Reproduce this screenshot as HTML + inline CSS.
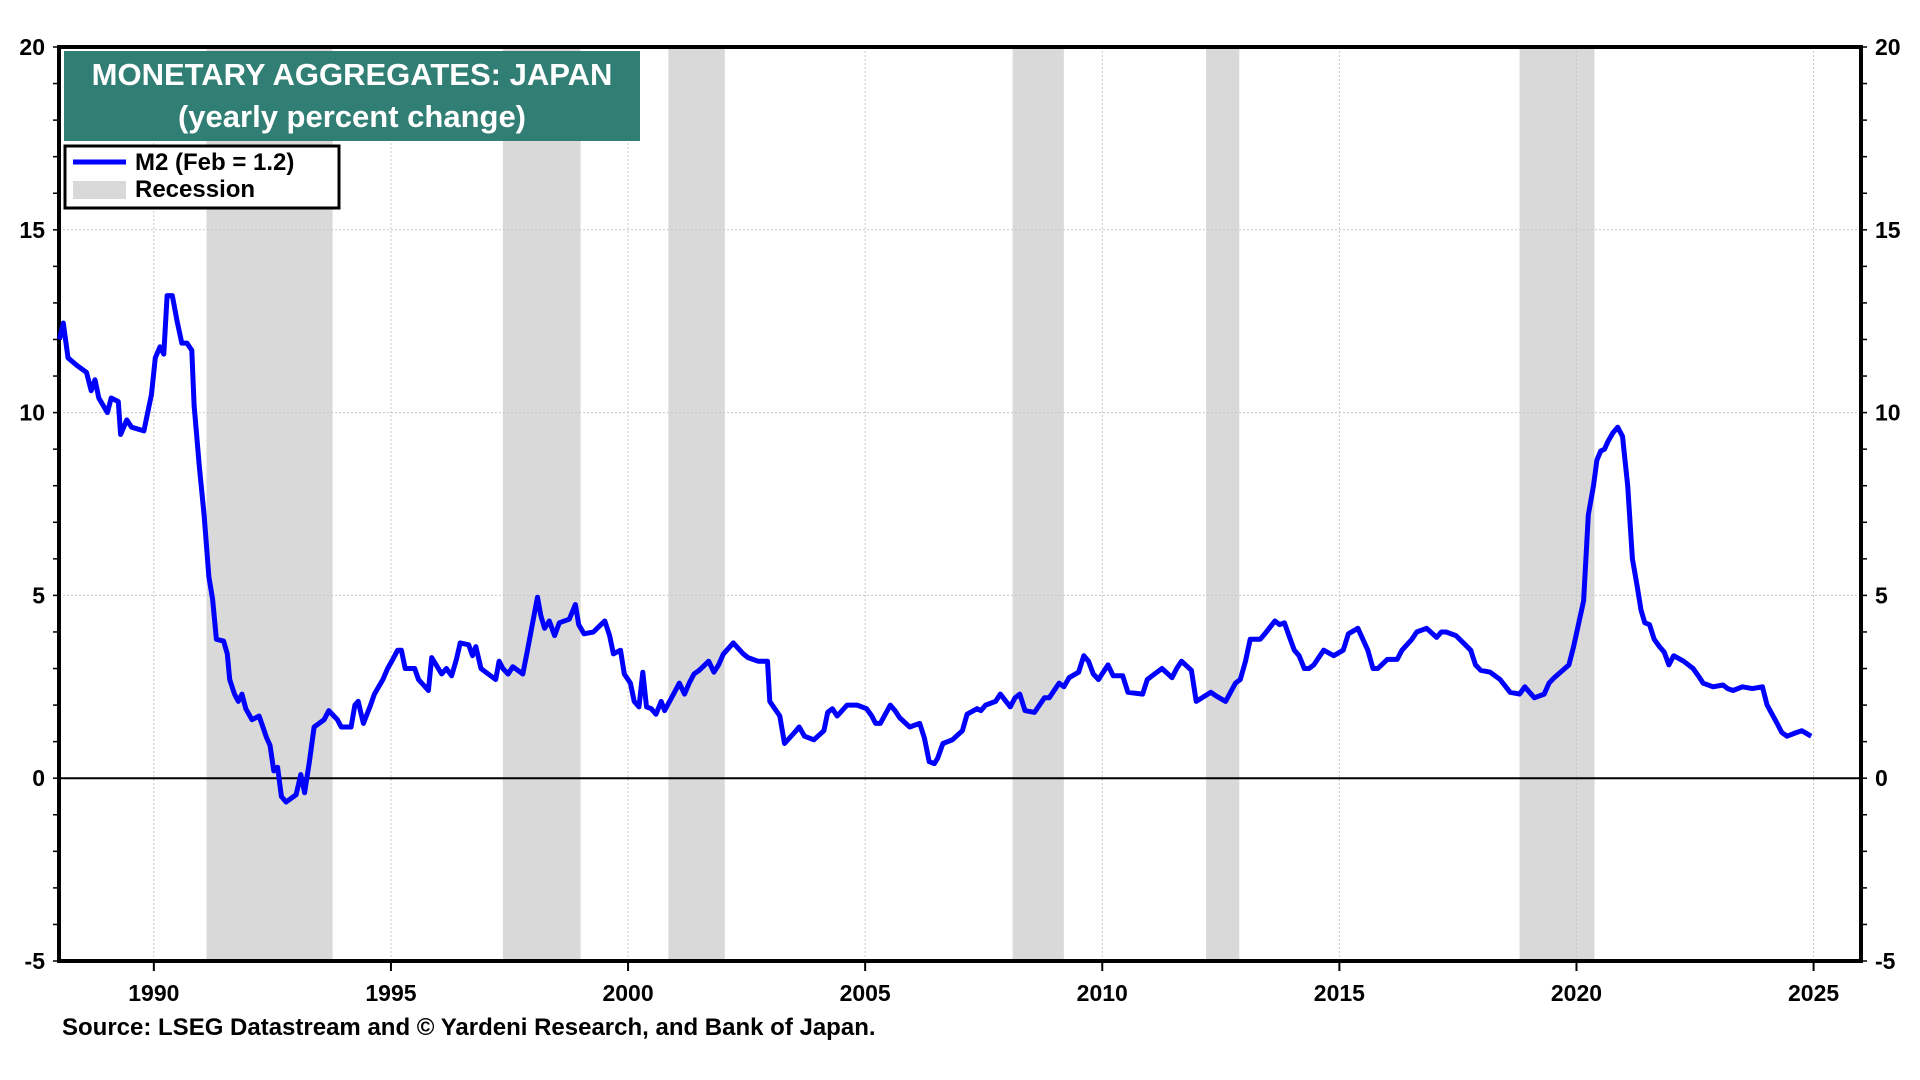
<!DOCTYPE html>
<html><head><meta charset="utf-8"><style>
html,body{margin:0;padding:0;background:#fff;}
svg{display:block;font-family:"Liberation Sans",Arial,sans-serif;}
</style></head><body>
<svg id="chart" width="1920" height="1080" viewBox="0 0 1920 1080" xmlns="http://www.w3.org/2000/svg">
<g id="rec"></g>
<g id="grid"></g>
<g id="axes"></g>
<g id="series"></g>
<g>
<rect x="64" y="51" width="576" height="90" fill="#317f74"/>
<text x="352" y="85" text-anchor="middle" font-size="31" font-weight="bold" fill="#fff">MONETARY AGGREGATES: JAPAN</text>
<text x="352" y="127" text-anchor="middle" font-size="31" font-weight="bold" fill="#fff">(yearly percent change)</text>
</g>
<g>
<rect x="65" y="146" width="274" height="62" fill="#fff" stroke="#000" stroke-width="3"/>
<line x1="73" y1="162" x2="126" y2="162" stroke="#0000ff" stroke-width="5"/>
<text x="135" y="170" font-size="24" font-weight="bold">M2 (Feb = 1.2)</text>
<rect x="73" y="181" width="53" height="18" fill="#d9d9d9"/>
<text x="135" y="197" font-size="24" font-weight="bold">Recession</text>
</g>
<text x="62" y="1035" font-size="24" font-weight="bold">Source: LSEG Datastream and © Yardeni Research, and Bank of Japan.</text>
</svg>
<script>
const recStarts=[1991.11,1997.36,2000.85,2008.11,2012.19,2018.80];
const recEnds=[1993.77,1999.0,2002.04,2009.19,2012.89,2020.38];
const yTicks=[-5,0,5,10,15,20];
const xTicks=[1990,1995,2000,2005,2010,2015,2020,2025];
const dates=[1988.01,1988.09,1988.19,1988.37,1988.58,1988.68,1988.76,1988.84,1989.02,1989.10,1989.25,1989.30,1989.43,1989.53,1989.79,1989.95,1990.03,1990.13,1990.21,1990.28,1990.39,1990.49,1990.59,1990.70,1990.80,1990.85,1990.96,1991.06,1991.16,1991.24,1991.32,1991.47,1991.55,1991.60,1991.70,1991.78,1991.86,1991.94,1992.07,1992.22,1992.38,1992.45,1992.53,1992.61,1992.69,1992.79,1993.00,1993.10,1993.18,1993.28,1993.38,1993.59,1993.69,1993.87,1993.95,1994.16,1994.24,1994.31,1994.42,1994.57,1994.65,1994.83,1994.93,1995.04,1995.14,1995.22,1995.30,1995.50,1995.58,1995.79,1995.86,1996.07,1996.17,1996.28,1996.38,1996.46,1996.64,1996.72,1996.79,1996.90,1997.00,1997.21,1997.28,1997.36,1997.47,1997.57,1997.78,1997.88,1997.98,1998.09,1998.16,1998.24,1998.34,1998.45,1998.55,1998.76,1998.89,1998.96,1999.07,1999.27,1999.43,1999.51,1999.61,1999.69,1999.84,1999.92,2000.05,2000.13,2000.23,2000.31,2000.39,2000.49,2000.59,2000.70,2000.77,2000.98,2001.08,2001.19,2001.29,2001.39,2001.50,2001.70,2001.81,2001.91,2002.01,2002.22,2002.43,2002.53,2002.74,2002.94,2002.99,2003.20,2003.30,2003.51,2003.61,2003.72,2003.92,2004.13,2004.21,2004.31,2004.41,2004.62,2004.83,2005.03,2005.14,2005.22,2005.32,2005.53,2005.63,2005.73,2005.94,2006.15,2006.25,2006.35,2006.46,2006.53,2006.64,2006.84,2007.05,2007.15,2007.36,2007.44,2007.54,2007.75,2007.85,2008.06,2008.16,2008.26,2008.37,2008.57,2008.78,2008.88,2009.09,2009.19,2009.30,2009.50,2009.61,2009.71,2009.81,2009.92,2010.12,2010.23,2010.43,2010.54,2010.85,2010.95,2011.05,2011.26,2011.47,2011.57,2011.67,2011.88,2011.98,2012.29,2012.40,2012.60,2012.81,2012.91,2013.02,2013.12,2013.33,2013.43,2013.64,2013.74,2013.84,2013.95,2014.05,2014.15,2014.26,2014.36,2014.46,2014.67,2014.88,2015.08,2015.19,2015.39,2015.60,2015.71,2015.81,2016.01,2016.22,2016.32,2016.53,2016.63,2016.84,2017.05,2017.15,2017.25,2017.46,2017.77,2017.87,2017.98,2018.18,2018.39,2018.60,2018.80,2018.91,2019.11,2019.32,2019.42,2019.53,2019.84,2019.94,2020.15,2020.25,2020.36,2020.43,2020.51,2020.59,2020.66,2020.77,2020.87,2020.97,2021.08,2021.18,2021.28,2021.36,2021.44,2021.54,2021.64,2021.75,2021.85,2021.95,2022.05,2022.26,2022.46,2022.57,2022.67,2022.88,2023.09,2023.19,2023.30,2023.50,2023.71,2023.92,2024.02,2024.23,2024.33,2024.44,2024.64,2024.75,2024.95,2025.05,2025.16];
const m2=[12.0,12.45,11.5,11.3,11.1,10.6,10.9,10.4,10.0,10.4,10.3,9.4,9.8,9.6,9.5,10.5,11.5,11.8,11.6,13.2,13.2,12.5,11.9,11.9,11.7,10.2,8.5,7.2,5.5,4.9,3.8,3.75,3.4,2.7,2.3,2.1,2.3,1.9,1.6,1.7,1.1,0.9,0.2,0.3,-0.5,-0.65,-0.45,0.1,-0.4,0.45,1.4,1.6,1.85,1.6,1.4,1.4,2.0,2.1,1.5,2.0,2.3,2.7,3.0,3.25,3.5,3.5,3.0,3.0,2.7,2.4,3.3,2.85,3.0,2.8,3.25,3.7,3.65,3.35,3.6,3.0,2.9,2.7,3.2,3.0,2.85,3.05,2.85,3.5,4.2,4.95,4.45,4.1,4.3,3.9,4.25,4.35,4.75,4.2,3.95,4.0,4.2,4.3,3.9,3.4,3.5,2.85,2.6,2.1,1.95,2.9,1.95,1.9,1.75,2.1,1.85,2.35,2.6,2.3,2.6,2.85,2.95,3.2,2.9,3.1,3.4,3.7,3.4,3.3,3.2,3.2,2.1,1.7,0.95,1.25,1.4,1.15,1.05,1.3,1.8,1.9,1.7,2.0,2.0,1.9,1.7,1.5,1.5,2.0,1.85,1.65,1.4,1.5,1.1,0.45,0.4,0.55,0.95,1.05,1.3,1.75,1.9,1.85,2.0,2.1,2.3,1.95,2.2,2.3,1.85,1.8,2.2,2.2,2.6,2.5,2.75,2.9,3.35,3.2,2.85,2.7,3.1,2.8,2.8,2.35,2.3,2.7,2.8,3.0,2.75,3.0,3.2,2.95,2.1,2.35,2.25,2.1,2.6,2.7,3.2,3.8,3.8,3.95,4.3,4.2,4.25,3.85,3.5,3.35,3.0,3.0,3.1,3.5,3.35,3.5,3.95,4.1,3.5,3.0,3.0,3.25,3.25,3.5,3.8,4.0,4.1,3.85,4.0,4.0,3.9,3.5,3.1,2.95,2.9,2.7,2.35,2.3,2.5,2.2,2.3,2.6,2.75,3.1,3.6,4.85,7.2,8.0,8.7,8.95,9.0,9.2,9.45,9.6,9.35,8.0,6.0,5.25,4.6,4.25,4.2,3.8,3.6,3.45,3.1,3.35,3.2,3.0,2.8,2.6,2.5,2.55,2.45,2.4,2.5,2.45,2.5,2.0,1.5,1.25,1.15,1.25,1.3,1.15];

const L=59,R=1861,T=47,B=961;
const X0=1988.0,X1=2026.0,Ymin=-5,Ymax=20;
const xs=v=>L+(v-X0)/(X1-X0)*(R-L);
const ys=v=>B-(v-Ymin)/(Ymax-Ymin)*(B-T);
const NS='http://www.w3.org/2000/svg';
function mk(tag,attrs,parent){const e=document.createElementNS(NS,tag);for(const k in attrs)e.setAttribute(k,attrs[k]);parent.appendChild(e);return e;}
const rec=document.getElementById('rec'),grid=document.getElementById('grid'),axes=document.getElementById('axes'),series=document.getElementById('series');
recStarts.forEach((s,i)=>{
  const r=mk('rect',{x:xs(s),y:T,width:xs(recEnds[i])-xs(s),height:B-T,fill:'#d9d9d9'},rec);
  
  
});
xTicks.forEach(t=>{
  const x=xs(t);
  const g=mk('line',{x1:x,y1:T,x2:x,y2:B,stroke:'#c8c8c8','stroke-width':1,'stroke-dasharray':'2,2'},grid);
  
  
  mk('line',{x1:x,y1:B,x2:x,y2:B+10,stroke:'#000','stroke-width':2},axes);
  const tx=mk('text',{x:x,y:B+40,'text-anchor':'middle','font-size':23,'font-weight':'bold'},axes);
  tx.textContent=t;
  
  
});
yTicks.forEach(t=>{
  const y=ys(t);
  if(t!==0&&t!==Ymin&&t!==Ymax){
    const g=mk('line',{x1:L,y1:y,x2:R,y2:y,stroke:'#c8c8c8','stroke-width':1,'stroke-dasharray':'2,2'},grid);
    
    
  }
  const a=mk('text',{x:L-14,y:y+8,'text-anchor':'end','font-size':23,'font-weight':'bold'},axes);
  a.textContent=t;
  
  
  const b=mk('text',{x:R+14,y:y+8,'text-anchor':'start','font-size':23,'font-weight':'bold'},axes);
  b.textContent=t;
  
  
});
for(let v=Ymin;v<=Ymax;v++){
  const y=ys(v);
  mk('line',{x1:L-6,y1:y,x2:L,y2:y,stroke:'#000','stroke-width':1.5},axes);
  mk('line',{x1:R,y1:y,x2:R+6,y2:y,stroke:'#000','stroke-width':1.5},axes);
}
const zl=mk('line',{x1:L,y1:ys(0),x2:R,y2:ys(0),stroke:'#000','stroke-width':2},axes);


const fr=mk('rect',{x:L,y:T,width:R-L,height:B-T,fill:'none',stroke:'#000','stroke-width':4},axes);


const d=dates.map((t,i)=>(i?'L':'M')+xs(t).toFixed(1)+','+ys(m2[i]).toFixed(1)).join('');
const p=mk('path',{d:d,fill:'none',stroke:'#0000ff','stroke-width':5,'stroke-linejoin':'round'},series);


</script>
</body></html>
